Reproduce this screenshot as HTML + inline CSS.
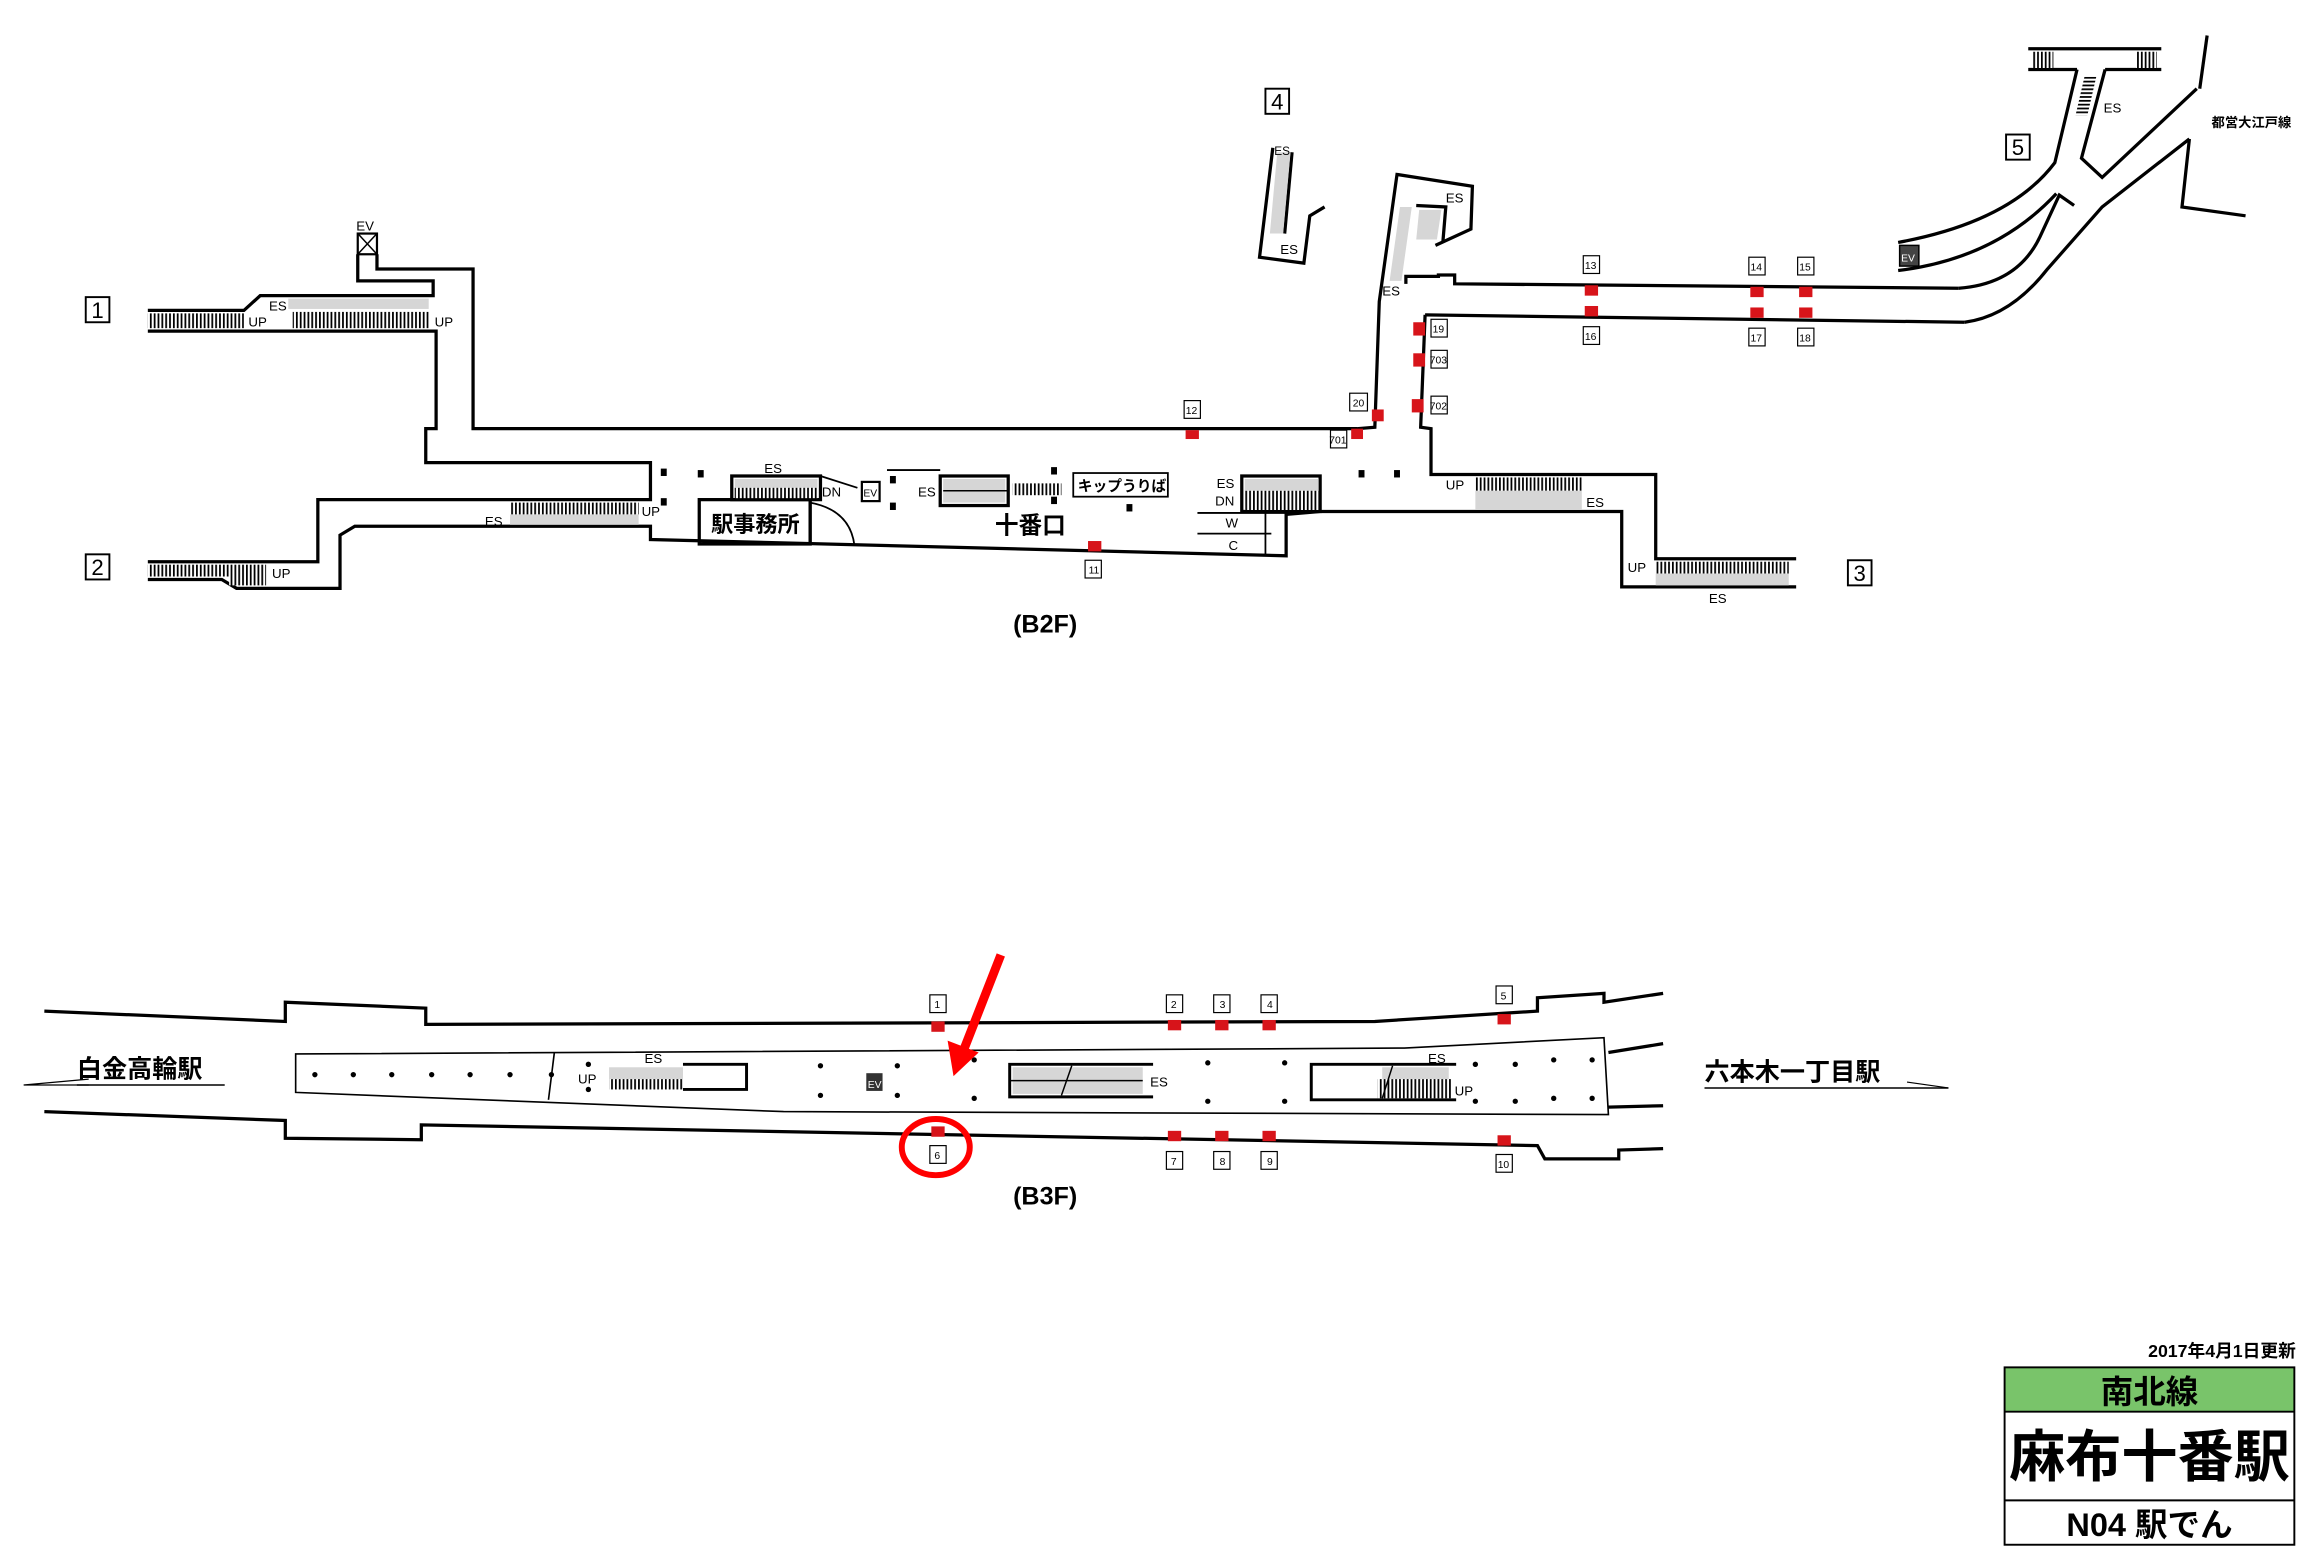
<!DOCTYPE html>
<html><head><meta charset="utf-8"><style>
html,body{margin:0;padding:0;background:#fff;}
svg{display:block;}
text{font-family:"Liberation Sans","Noto Sans CJK JP",sans-serif;fill:#000;}
</style></head><body>
<svg width="2318" height="1561" viewBox="0 0 1568 1056" preserveAspectRatio="none" xmlns="http://www.w3.org/2000/svg">
<defs>
<pattern id="h" width="2.6" height="10" patternUnits="userSpaceOnUse"><rect width="2.6" height="10" fill="#fff"/><rect width="1.2" height="10" fill="#000"/></pattern>
<pattern id="hv" width="10" height="2.6" patternUnits="userSpaceOnUse"><rect width="10" height="2.6" fill="#fff"/><rect width="10" height="1.2" fill="#000"/></pattern>
</defs>
<g fill="none" stroke="#000" stroke-width="2.2" stroke-linejoin="miter">
<polyline points="100,210 165,210 176,200 293,200 293,190 242,190 242,172"/>
<polyline points="255,172 255,182 320,182 320,290 918,290 930,289 933,204 945,118 996,126 995,155 971,166"/>
<polyline points="958,139 978,140 976,164"/>
<polyline points="100,224 295,224 295,290 288,290 288,313 440,313 440,338 215,338 215,380 100,380"/>
<polyline points="100,392 150,392 160,398 230,398 230,362 240,356 440,356 440,365 870,376 870,348 893,346 1097,346 1097,397 1215,397"/>
<polyline points="951,192 951,187 973,187 973,186 984,186 984,192 1325,195"/>
<polyline points="964,213 1329,218"/>
<polyline points="964,213 961,289 968,290 968,321 1120,321 1120,378 1215,378"/>
<path d="M1325,195 Q1365,192 1380,160 L1393,132 L1403,139"/>
<path d="M1329,218 Q1360,214 1385,182 L1422,140 L1481,94"/>
<path d="M1284,164 Q1360,150 1390,110 L1405,47"/>
<path d="M1284,183 Q1350,175 1391,131"/>
<polyline points="1424,47 1408,107 1422,120 1486,60"/>
<polyline points="1493,24 1488,60"/>
<polyline points="1481,94 1476,140 1519,146"/>
<line x1="1372" y1="33" x2="1462" y2="33"/><line x1="1372" y1="47" x2="1405" y2="47"/><line x1="1424" y1="47" x2="1462" y2="47"/>
<polyline points="861,100 852,174 882,178 886,146 896,140"/>
<line x1="874" y1="103" x2="869" y2="158"/>
<rect x="495" y="322" width="60" height="16"/>
<rect x="636" y="322" width="46" height="20"/>
<rect x="840" y="322" width="53" height="24"/>
<rect x="473" y="338" width="75" height="30"/>
<rect x="726" y="320" width="64" height="16" stroke-width="1.2"/>
<path d="M548,340 Q575,345 578,369" stroke-width="1.2"/>
<line x1="548" y1="339" x2="548" y2="369"/>
<line x1="810" y1="347" x2="870" y2="347" stroke-width="1.2"/>
<line x1="810" y1="361" x2="860" y2="361" stroke-width="1.2"/>
<line x1="856" y1="347" x2="856" y2="376" stroke-width="1.2"/>
<line x1="555" y1="322" x2="580" y2="330" stroke-width="1.2"/>
<line x1="600" y1="318" x2="636" y2="318" stroke-width="1.2"/>
<rect x="242" y="158" width="13" height="14" stroke-width="1.5"/>
<path d="M242,158 L255,172 M255,158 L242,172" stroke-width="1"/>
</g>
<g>
<rect x="100" y="212" width="65" height="10" fill="url(#h)"/>
<rect x="198" y="211" width="92" height="11" fill="url(#h)"/>
<rect x="195" y="202" width="95" height="7" fill="#d6d6d6"/>
<rect x="345" y="340" width="87" height="8" fill="url(#h)"/>
<rect x="345" y="348" width="87" height="7" fill="#d6d6d6"/>
<rect x="100" y="382" width="55" height="8" fill="url(#h)"/>
<rect x="155" y="382" width="25" height="14" fill="url(#h)"/>
<rect x="497" y="324" width="56" height="6" fill="#d6d6d6"/>
<rect x="497" y="330" width="56" height="7" fill="url(#h)"/>
<rect x="638" y="324" width="42" height="16" fill="#d6d6d6"/>
<line x1="638" y1="332" x2="682" y2="332" stroke="#000" stroke-width="1"/>
<rect x="842" y="324" width="50" height="8" fill="#d6d6d6"/>
<rect x="842" y="332" width="50" height="13" fill="url(#h)"/>
<rect x="998" y="323" width="72" height="9" fill="url(#h)"/>
<rect x="998" y="332" width="72" height="13" fill="#d6d6d6"/>
<rect x="1120" y="380" width="90" height="8" fill="url(#h)"/>
<rect x="1120" y="388" width="90" height="8" fill="#d6d6d6"/>
<rect x="685" y="327" width="33" height="8" fill="url(#h)"/>
<rect x="1375" y="35" width="14" height="11" fill="url(#h)"/>
<rect x="1445" y="35" width="14" height="11" fill="url(#h)"/>
<polygon points="1410,52 1418,52 1412,78 1404,78" fill="url(#hv)"/>
<polygon points="864,103 873,103 868,158 859,158" fill="#d6d6d6"/>
<polygon points="947,140 955,140 948,190 940,190" fill="#d6d6d6"/>
<polygon points="960,142 975,142 972,162 958,162" fill="#d6d6d6"/>
<rect x="583" y="326" width="12" height="13" fill="#fff" stroke="#000" stroke-width="1.5"/>
<rect x="1285" y="166" width="13" height="14" fill="#444" stroke="#000"/>
</g>
<g fill="#000">
<rect x="447" y="317" width="4" height="5"/><rect x="447" y="337" width="4" height="5"/><rect x="472" y="318" width="4" height="5"/>
<rect x="602" y="322" width="4" height="5"/><rect x="602" y="340" width="4" height="5"/><rect x="711" y="316" width="4" height="5"/><rect x="711" y="336" width="4" height="5"/>
<rect x="762" y="341" width="4" height="5"/><rect x="919" y="318" width="4" height="5"/><rect x="943" y="318" width="4" height="5"/>
</g>
<g fill="#d7141a">
<rect x="802" y="291" width="9" height="6"/><rect x="736" y="366" width="9" height="7"/>
<rect x="914" y="290" width="8" height="7"/><rect x="928" y="277" width="8" height="8"/>
<rect x="956" y="218" width="8" height="9"/><rect x="956" y="239" width="8" height="9"/><rect x="955" y="270" width="8" height="9"/>
<rect x="1072" y="193" width="9" height="7"/><rect x="1072" y="207" width="9" height="7"/>
<rect x="1184" y="194" width="9" height="7"/><rect x="1184" y="208" width="9" height="7"/>
<rect x="1217" y="194" width="9" height="7"/><rect x="1217" y="208" width="9" height="7"/>
</g>
<g font-size="7" text-anchor="middle" stroke-width="0.8">
<g fill="none" stroke="#000">
<rect x="801" y="271" width="11" height="12"/><rect x="734" y="379" width="11" height="12"/>
<rect x="913" y="266" width="12" height="12"/><rect x="900" y="291" width="11" height="12"/>
<rect x="968" y="216" width="11" height="12"/><rect x="968" y="237" width="11" height="12"/><rect x="968" y="268" width="11" height="12"/>
<rect x="1071" y="173" width="11" height="12"/><rect x="1183" y="174" width="11" height="12"/><rect x="1216" y="174" width="11" height="12"/>
<rect x="1071" y="221" width="11" height="12"/><rect x="1183" y="222" width="11" height="12"/><rect x="1216" y="222" width="11" height="12"/>
</g>
<text x="806" y="280">12</text><text x="740" y="388">11</text><text x="919" y="275">20</text><text x="905" y="300">701</text>
<text x="973" y="225">19</text><text x="973" y="246">703</text><text x="973" y="277">702</text>
<text x="1076" y="182">13</text><text x="1188" y="183">14</text><text x="1221" y="183">15</text>
<text x="1076" y="230">16</text><text x="1188" y="231">17</text><text x="1221" y="231">18</text>
</g>
<g fill="#fff" stroke="#000" stroke-width="1.3">
<rect x="58" y="201" width="16" height="17"/><rect x="58" y="375" width="16" height="17"/>
<rect x="1250" y="379" width="16" height="17"/><rect x="856" y="60" width="16" height="17"/><rect x="1357" y="91" width="16" height="17"/>
</g>
<g font-size="15" text-anchor="middle">
<text x="66" y="215">1</text><text x="66" y="389">2</text><text x="1258" y="393">3</text><text x="864" y="74">4</text><text x="1365" y="105">5</text>
</g>
<g font-size="9">
<text x="241" y="156">EV</text>
<text x="182" y="210">ES</text><text x="168" y="221">UP</text><text x="294" y="221">UP</text>
<text x="328" y="356">ES</text><text x="434" y="349">UP</text><text x="184" y="391">UP</text>
<text x="517" y="320">ES</text><text x="556" y="336">DN</text><text x="621" y="336">ES</text>
<text x="823" y="330">ES</text><text x="822" y="342">DN</text><text x="829" y="357">W</text><text x="831" y="372">C</text>
<text x="935" y="200">ES</text><text x="978" y="137">ES</text><text x="862" y="105" font-size="8">ES</text><text x="866" y="172">ES</text>
<text x="978" y="331">UP</text><text x="1073" y="343">ES</text><text x="1101" y="387">UP</text><text x="1156" y="408">ES</text>
<text x="1423" y="76">ES</text><text x="1496" y="86" font-size="9" font-weight="bold">都営大江戸線</text>
<text x="1286" y="177" font-size="7" style="fill:#fff">EV</text>
<text x="584" y="336" font-size="7">EV</text>
<text x="729" y="332" font-size="10" font-weight="bold">キップうりば</text>
</g>
<text x="481" y="360" font-size="15" font-weight="bold">駅事務所</text>
<text x="673" y="361" font-size="16" font-weight="bold">十番口</text>
<text x="707" y="428" font-size="17" text-anchor="middle" font-weight="bold">(B2F)</text>

<g fill="none" stroke="#000" stroke-width="2.2">
<polyline points="30,684 193,691 193,678 288,682 288,693 930,691 1040,684 1040,675 1085,672 1085,678 1125,672"/>
<polyline points="30,752 193,758 193,770 285,771 285,761 1040,775 1045,784 1095,784 1095,778 1125,777"/>
<polyline points="1088,712 1125,706"/><polyline points="1088,749 1125,748"/>
</g>
<g fill="none" stroke="#000" stroke-width="1.1">
<polygon points="200,713 950,709 1085,702 1088,754 530,752 200,739"/>
<line x1="375" y1="712" x2="371" y2="744"/>
</g>
<g>
<rect x="412" y="722" width="50" height="8" fill="#d6d6d6"/><rect x="412" y="730" width="50" height="7" fill="url(#h)"/>
<rect x="685" y="722" width="88" height="18" fill="#d6d6d6"/>
<rect x="935" y="722" width="45" height="8" fill="#d6d6d6"/><rect x="932" y="730" width="50" height="13" fill="url(#h)"/>
</g>
<g fill="none" stroke="#000" stroke-width="2">
<polyline points="462,720 505,720 505,737 462,737"/>
<polyline points="780,720 683,720 683,742 780,742"/>
<polyline points="985,720 887,720 887,744 985,744"/>
<line x1="718" y1="741" x2="725" y2="721" stroke-width="1"/>
<line x1="683" y1="731" x2="773" y2="731" stroke-width="1"/>
<line x1="935" y1="743" x2="942" y2="721" stroke-width="1"/>
</g>
<rect x="586" y="726" width="11" height="12" fill="#333"/>
<text x="587" y="736" font-size="7" style="fill:#fff">EV</text>
<g fill="#000">
<circle cx="213" cy="727" r="1.8"/><circle cx="239" cy="727" r="1.8"/><circle cx="265" cy="727" r="1.8"/><circle cx="292" cy="727" r="1.8"/><circle cx="318" cy="727" r="1.8"/><circle cx="345" cy="727" r="1.8"/><circle cx="373" cy="727" r="1.8"/>
<circle cx="398" cy="720" r="1.8"/><circle cx="398" cy="737" r="1.8"/>
<circle cx="555" cy="721" r="1.8"/><circle cx="555" cy="741" r="1.8"/><circle cx="607" cy="721" r="1.8"/><circle cx="607" cy="741" r="1.8"/><circle cx="659" cy="717" r="1.8"/><circle cx="659" cy="743" r="1.8"/>
<circle cx="817" cy="719" r="1.8"/><circle cx="817" cy="745" r="1.8"/><circle cx="869" cy="719" r="1.8"/><circle cx="869" cy="745" r="1.8"/>
<circle cx="998" cy="720" r="1.8"/><circle cx="998" cy="745" r="1.8"/><circle cx="1025" cy="720" r="1.8"/><circle cx="1025" cy="745" r="1.8"/>
<circle cx="1051" cy="717" r="1.8"/><circle cx="1051" cy="743" r="1.8"/><circle cx="1077" cy="717" r="1.8"/><circle cx="1077" cy="743" r="1.8"/>
</g>
<g fill="#d7141a">
<rect x="630" y="691" width="9" height="7"/><rect x="790" y="690" width="9" height="7"/><rect x="822" y="690" width="9" height="7"/><rect x="854" y="690" width="9" height="7"/><rect x="1013" y="686" width="9" height="7"/>
<rect x="630" y="762" width="9" height="7"/><rect x="790" y="765" width="9" height="7"/><rect x="822" y="765" width="9" height="7"/><rect x="854" y="765" width="9" height="7"/><rect x="1013" y="768" width="9" height="7"/>
</g>
<g font-size="7" text-anchor="middle">
<g fill="none" stroke="#000" stroke-width="0.8">
<rect x="629" y="673" width="11" height="12"/><rect x="789" y="673" width="11" height="12"/><rect x="821" y="673" width="11" height="12"/><rect x="853" y="673" width="11" height="12"/><rect x="1012" y="667" width="11" height="12"/>
<rect x="629" y="775" width="11" height="12"/><rect x="789" y="779" width="11" height="12"/><rect x="821" y="779" width="11" height="12"/><rect x="853" y="779" width="11" height="12"/><rect x="1012" y="781" width="11" height="12"/>
</g>
<text x="634" y="682">1</text><text x="794" y="682">2</text><text x="827" y="682">3</text><text x="859" y="682">4</text><text x="1017" y="676">5</text>
<text x="634" y="784">6</text><text x="794" y="788">7</text><text x="827" y="788">8</text><text x="859" y="788">9</text><text x="1017" y="790">10</text>
</g>
<g font-size="9">
<text x="436" y="719">ES</text><text x="391" y="733">UP</text><text x="778" y="735">ES</text><text x="966" y="719">ES</text><text x="984" y="741">UP</text>
</g>
<text x="52" y="729" font-size="17" font-weight="bold">白金高輪駅</text>
<line x1="52" y1="734" x2="152" y2="734" stroke="#000" stroke-width="1"/>
<polyline points="60,730 16,734 60,734" fill="none" stroke="#000" stroke-width="0.8"/>
<text x="1153" y="731" font-size="17" font-weight="bold">六本木一丁目駅</text>
<line x1="1153" y1="736" x2="1318" y2="736" stroke="#000" stroke-width="1"/>
<polyline points="1290,732 1318,736" fill="none" stroke="#000" stroke-width="0.8"/>
<text x="707" y="815" font-size="17" text-anchor="middle" font-weight="bold">(B3F)</text>
<line x1="677" y1="646" x2="652" y2="710" stroke="#f00" stroke-width="6"/>
<polygon points="641,704 662,712 645,728" fill="#f00"/>
<ellipse cx="633" cy="776" rx="23" ry="19" fill="none" stroke="#f00" stroke-width="4"/>
<text x="1553" y="918" font-size="12" text-anchor="end" font-weight="bold">2017年4月1日更新</text>
<rect x="1356" y="925" width="196" height="30" fill="#79c46a"/>
<rect x="1356" y="925" width="196" height="120" fill="none" stroke="#000" stroke-width="1.3"/>
<line x1="1356" y1="955" x2="1552" y2="955" stroke="#000" stroke-width="1.3"/>
<line x1="1356" y1="1015" x2="1552" y2="1015" stroke="#000" stroke-width="1.3"/>
<text x="1454" y="949" font-size="22" text-anchor="middle" font-weight="bold">南北線</text>
<text x="1454" y="999" font-size="38" text-anchor="middle" font-weight="bold">麻布十番駅</text>
<text x="1454" y="1039" font-size="22" text-anchor="middle" font-weight="bold">N04 駅でん</text>
</svg>
</body></html>
